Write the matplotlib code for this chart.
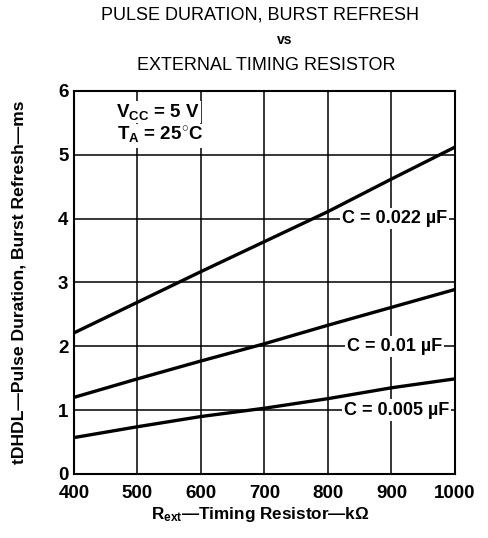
import numpy as np
import matplotlib
matplotlib.use('Agg')
import matplotlib.pyplot as plt

plt.rcParams['font.family'] = ['Liberation Sans', 'DejaVu Sans']
plt.rcParams['mathtext.fontset'] = 'custom'
plt.rcParams['mathtext.rm'] = 'Liberation Sans:bold'
plt.rcParams['mathtext.bf'] = 'Liberation Sans:bold'
plt.rcParams['mathtext.default'] = 'rm'

# Resistor values (kOhm) and pulse duration (ms)
r_ext = [400, 500, 600, 700, 800, 900, 1000]
c_022 = [2.21, 2.69, 3.17, 3.64, 4.11, 4.62, 5.12]
c_010 = [1.20, 1.49, 1.77, 2.04, 2.33, 2.61, 2.89]
c_005 = [0.57, 0.74, 0.90, 1.03, 1.18, 1.35, 1.49]

curve_labels = ['C = 0.022 µF', 'C = 0.01 µF', 'C = 0.005 µF']
label_pos = [(905, 4), (905, 2), (908, 1)]

x_ticks = [400, 500, 600, 700, 800, 900, 1000]
y_ticks = [0, 1, 2, 3, 4, 5, 6]

fig = plt.figure(figsize=(4.88, 5.38), dpi=100)
ax = fig.add_axes([0.1516, 0.119, 0.7807, 0.712])

for ys in (c_022, c_010, c_005):
    ax.plot(r_ext, ys, color='black', lw=2.4, solid_capstyle='butt', zorder=3)

ax.set_xlim(400, 1000)
ax.set_ylim(0, 6)
ax.set_xticks(x_ticks)
ax.set_yticks(y_ticks)
ax.grid(True, color='black', lw=1.1)
ax.set_axisbelow(True)
ax.tick_params(length=0, labelsize=13.5)
ax.tick_params(axis='x', pad=8)
ax.tick_params(axis='y', pad=4)
for lab in ax.get_xticklabels() + ax.get_yticklabels():
    lab.set_fontweight('bold')
for sp in ax.spines.values():
    sp.set_linewidth(1.5)

for txt, (xx, yy) in zip(curve_labels, label_pos):
    ax.text(xx, yy, txt, ha='center', va='center', fontsize=13, fontweight='bold',
            zorder=4, bbox=dict(facecolor='white', edgecolor='none', pad=1.5))

ax.text(466, 5.67, r'V$_{\mathrm{CC}}$ = 5 V', ha='left', va='center', fontsize=13.5,
        fontweight='bold', zorder=4, bbox=dict(facecolor='white', edgecolor='none', pad=1))
ax.text(468, 5.30, r'T$_{\mathrm{A}}$ = 25$^{\circ}$C', ha='left', va='center', fontsize=13.5,
        fontweight='bold', zorder=4, bbox=dict(facecolor='white', edgecolor='none', pad=1))

fig.text(260 / 488, 1 - 15 / 538, 'PULSE DURATION, BURST REFRESH', ha='center', va='center',
         fontsize=13)
fig.text(285 / 488, 1 - 40 / 538, 'vs', ha='center', va='center', fontsize=10, fontweight='bold')
fig.text(266 / 488, 1 - 65 / 538, 'EXTERNAL TIMING RESISTOR', ha='center', va='center',
         fontsize=13)

fig.text(260 / 488, 1 - 515 / 538, 'R$_{\\mathrm{ext}}$—Timing Resistor—kΩ', ha='center',
         va='center', fontsize=12.3, fontweight='bold')
fig.text(19 / 488, 1 - 282 / 538, 'tDHDL—Pulse Duration, Burst Refresh—ms', ha='center',
         va='center', rotation=90, fontsize=12.6, fontweight='bold')

fig.savefig('out.png', dpi=100, facecolor='white')
